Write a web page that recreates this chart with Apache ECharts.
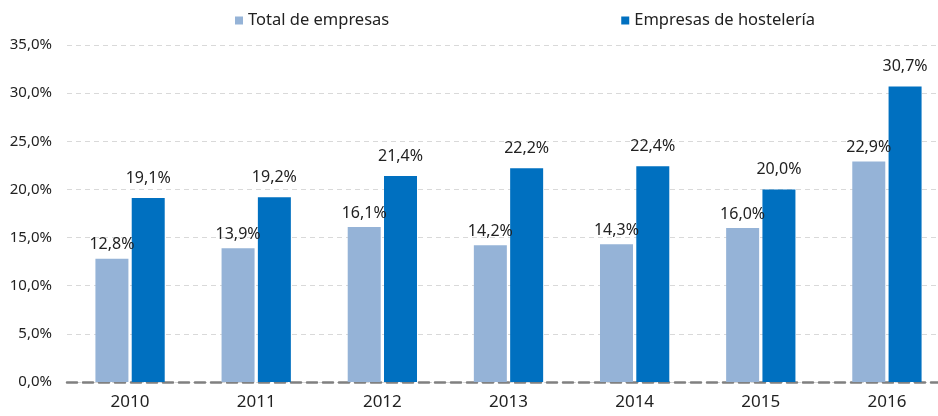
<!DOCTYPE html>
<html>
<head>
<meta charset="utf-8">
<script src="https://cdn.jsdelivr.net/npm/echarts@6/dist/echarts.min.js"></script>
<style>
  html, body { margin: 0; padding: 0; background: #fff; }
  #chart { width: 938px; height: 416px; }
</style>
</head>
<body>
<div id="chart"></div>
<script>
const years = ['2010', '2011', '2012', '2013', '2014', '2015', '2016']
const totalEmpresas = [12.8, 13.9, 16.1, 14.2, 14.3, 16.0, 22.9]
const hosteleria = [19.1, 19.2, 21.4, 22.2, 22.4, 20.0, 30.7]
const seriesNames = ['Total de empresas', 'Empresas de hostelería']

const fmt = v => v.toFixed(1).replace('.', ',') + '%'
const font = 'Noto Sans'

const chart = echarts.init(document.getElementById('chart'))

const option = {
  animation: false,
  textStyle: { fontFamily: font },
  legend: {
    data: seriesNames,
    top: 7,
    left: 230,
    itemWidth: 8,
    itemHeight: 8,
    itemGap: 232,
    icon: 'rect',
    textStyle: { fontSize: 16.5, color: '#222', fontFamily: font }
  },
  // grid runs past the right edge, as in the original
  grid: {
    left: 67,
    width: 883,
    top: 45,
    bottom: 34,
    outerBoundsMode: 'none'
  },
  xAxis: {
    type: 'category',
    data: years,
    axisTick: { show: false },
    axisLine: {
      show: true,
      lineStyle: { color: '#808080', width: 2.5, type: [10, 6] }
    },
    axisLabel: { fontSize: 17, color: '#222', margin: 12, fontFamily: font }
  },
  yAxis: {
    type: 'value',
    min: 0,
    max: 35,
    interval: 5,
    axisLine: { show: false },
    axisTick: { show: false },
    axisLabel: {
      fontSize: 15,
      color: '#222',
      margin: 15,
      fontFamily: font,
      formatter: fmt
    },
    splitLine: {
      lineStyle: { color: '#d9d9d9', type: [5, 4], width: 1 }
    }
  },
  series: [
    {
      name: seriesNames[0],
      type: 'bar',
      data: totalEmpresas,
      barWidth: 33,
      barGap: '10%',
      itemStyle: { color: '#95b3d7' },
      label: {
        show: true,
        position: 'top',
        distance: 6,
        fontSize: 16,
        color: '#222',
        fontFamily: font,
        formatter: p => fmt(p.value)
      }
    },
    {
      name: seriesNames[1],
      type: 'bar',
      data: hosteleria,
      barWidth: 33,
      itemStyle: { color: '#0070c0' },
      label: {
        show: true,
        position: 'top',
        distance: 12,
        fontSize: 16,
        color: '#222',
        fontFamily: font,
        formatter: p => fmt(p.value)
      }
    }
  ]
}

chart.setOption(option)
</script>
</body>
</html>
